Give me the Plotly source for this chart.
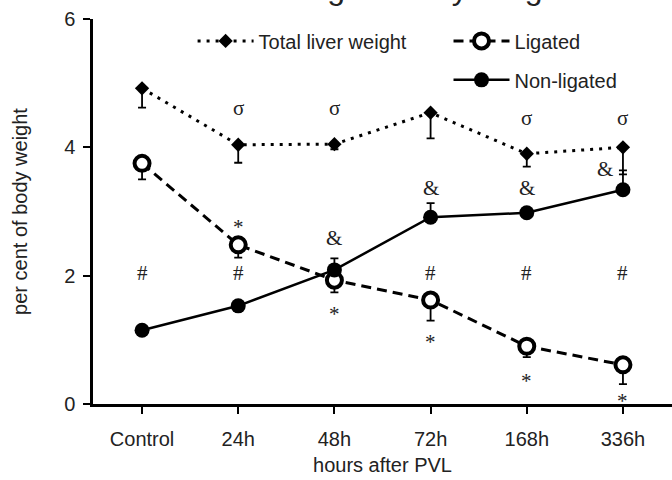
import plotly.graph_objects as go

categories = ["Control", "24h", "48h", "72h", "168h", "336h"]

total_weight = [4.92, 4.04, 4.05, 4.54, 3.90, 4.00]
total_err_minus = [0.30, 0.28, 0.08, 0.40, 0.20, 0.42]

ligated = [3.75, 2.48, 1.93, 1.62, 0.90, 0.61]
ligated_err_minus = [0.25, 0.20, 0.19, 0.32, 0.17, 0.30]

nonligated = [1.15, 1.53, 2.09, 2.91, 2.98, 3.34]
nonligated_err_plus = [0.03, 0.04, 0.18, 0.22, 0.05, 0.30]

sigma_x = ["24h", "48h", "168h", "336h"]
sigma_y = [4.62, 4.62, 4.45, 4.45]
star_x = ["24h", "48h", "72h", "168h", "336h"]
star_y = [2.76, 1.40, 0.96, 0.36, 0.05]
hash_x = ["Control", "24h", "72h", "168h", "336h"]
hash_y = [2.04, 2.04, 2.04, 2.04, 2.04]
amp_x = ["48h", "72h", "168h", "336h"]
amp_y = [2.58, 3.36, 3.36, 3.66]
amp_xshift = [0, 0, 0, -18]

FONT = "Liberation Sans, Arial, sans-serif"
SERIF = "Liberation Serif, DejaVu Serif, serif"

fig = go.Figure()

fig.add_trace(go.Scatter(
    x=categories, y=total_weight, name="Total liver weight", mode="lines+markers",
    line=dict(color="black", width=3, dash="3px,6px"),
    marker=dict(symbol="diamond", size=11, color="black"),
    error_y=dict(type="data", symmetric=False, array=[0] * 6, arrayminus=total_err_minus,
                 color="black", thickness=1.8, width=4),
    legend="legend", showlegend=True,
))
fig.add_trace(go.Scatter(
    x=categories, y=ligated, name="Ligated", mode="lines+markers",
    line=dict(color="black", width=3, dash="10px,6px"),
    marker=dict(symbol="circle", size=15, color="white", line=dict(color="black", width=4)),
    error_y=dict(type="data", symmetric=False, array=[0] * 6, arrayminus=ligated_err_minus,
                 color="black", thickness=1.8, width=4),
    legend="legend2", showlegend=True,
))
fig.add_trace(go.Scatter(
    x=categories, y=nonligated, name="Non-ligated", mode="lines+markers",
    line=dict(color="black", width=2.5),
    marker=dict(symbol="circle", size=15, color="black"),
    error_y=dict(type="data", symmetric=False, array=nonligated_err_plus, arrayminus=[0] * 6,
                 color="black", thickness=1.8, width=4),
    legend="legend3", showlegend=True,
))

annotations = []
for xs, ys, sym in [(sigma_x, sigma_y, "σ"), (star_x, star_y, "*"), (hash_x, hash_y, "#")]:
    for xv, yv in zip(xs, ys):
        annotations.append(dict(x=xv, y=yv, xref="x", yref="y", text=sym, showarrow=False,
                                font=dict(family=SERIF, size=21, color="#222")))
for xv, yv, xs in zip(amp_x, amp_y, amp_xshift):
    annotations.append(dict(x=xv, y=yv, xref="x", yref="y", text="&", showarrow=False, xshift=xs,
                            font=dict(family=SERIF, size=21, color="#222")))

annotations.append(dict(x=0.505, y=1.081, xref="paper", yref="paper", text="Liver weight / body weight",
                        showarrow=False, yanchor="middle",
                        font=dict(family=FONT, size=32, color="#222")))

leg_common = dict(orientation="v", bgcolor="rgba(0,0,0,0)", borderwidth=0,
                  font=dict(family=FONT, size=20, color="#222"), itemwidth=56,
                  yanchor="middle", xanchor="left")

fig.update_layout(
    width=672, height=480,
    margin=dict(l=93, r=0, t=19, b=76),
    paper_bgcolor="white", plot_bgcolor="white",
    showlegend=True,
    font=dict(family=FONT, size=20, color="#222"),
    annotations=annotations,
    legend=dict(x=0.172, y=0.943, **leg_common),
    legend2=dict(x=0.614, y=0.943, **leg_common),
    legend3=dict(x=0.614, y=0.842, **leg_common),
    xaxis=dict(
        type="category", range=[-0.51, 5.51], showgrid=False, zeroline=False,
        showline=True, linecolor="black", linewidth=2.5,
        ticks="outside", ticklen=7, tickwidth=2, tickcolor="black",
        ticklabelstandoff=8,
        tickfont=dict(family=FONT, size=20, color="#222"),
        title=dict(text="hours after PVL", font=dict(family=FONT, size=20, color="#222"), standoff=10),
    ),
    yaxis=dict(
        range=[0, 6], tickvals=[0, 2, 4, 6], showgrid=False, zeroline=False,
        showline=True, linecolor="black", linewidth=2.5,
        ticks="outside", ticklen=7, tickwidth=2, tickcolor="black",
        ticklabelstandoff=4,
        tickfont=dict(family=FONT, size=20, color="#222"),
        title=dict(text="per cent of body weight", font=dict(family=FONT, size=20, color="#222"), standoff=32),
    ),
)

fig.write_html("out.html")
